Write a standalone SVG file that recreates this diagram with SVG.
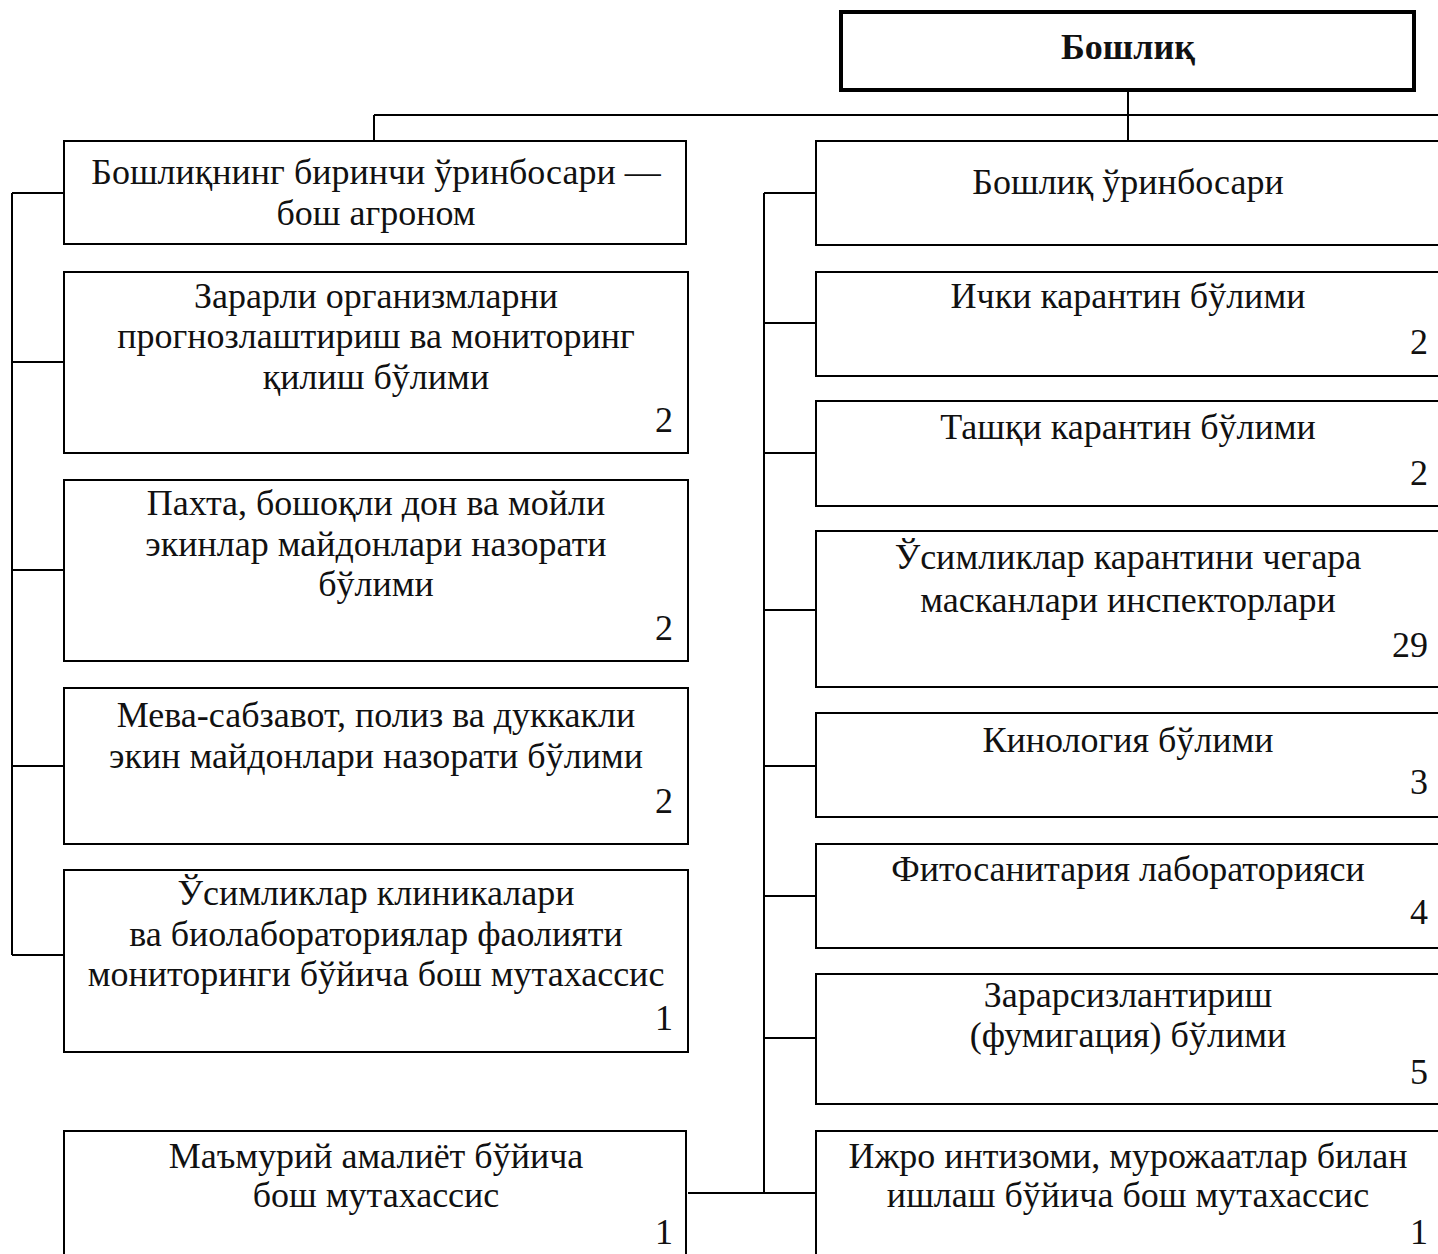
<svg xmlns="http://www.w3.org/2000/svg" width="1438" height="1254" viewBox="0 0 1438 1254">
<style>
.b{fill:#fff;stroke:#000;stroke-width:2}
.boss{fill:#fff;stroke:#000;stroke-width:4}
.c{fill:none;stroke:#000;stroke-width:2}
text{font-family:"Liberation Serif","Times New Roman",serif;font-size:36px;fill:#111}
.m{text-anchor:middle}
.n{text-anchor:end}
.bold{font-weight:bold}
</style>
<rect width="1438" height="1254" fill="#fff"/>
<g id="connectors">
<path class="c" d="M1128 90V141M374 115H1440M374 115V141"/>
<path class="c" d="M12 193V955M12 193H64M12 362H64M12 570H64M12 766H64M12 955H64"/>
<path class="c" d="M764 193V1193M764 193H816M764 323H816M764 453H816M764 610H816M764 766H816M764 896H816M764 1038H816M688 1193H816"/>
</g>
<g id="boss"><rect class="boss" x="841" y="12" width="573" height="78"/><text class="m bold" x="1128" y="59">Бошлиқ</text></g>
<g id="l1"><rect class="b" x="64" y="141" width="622" height="103"/><text class="m" x="376" y="184">Бошлиқнинг биринчи ўринбосари —</text><text class="m" x="376" y="225">бош агроном</text></g>
<g id="l2"><rect class="b" x="64" y="272" width="624" height="181"/><text class="m" x="376" y="308">Зарарли организмларни</text><text class="m" x="376" y="348">прогнозлаштириш ва мониторинг</text><text class="m" x="376" y="389">қилиш бўлими</text><text class="n" x="673" y="432">2</text></g>
<g id="l3"><rect class="b" x="64" y="480" width="624" height="181"/><text class="m" x="376" y="515">Пахта, бошоқли дон ва мойли</text><text class="m" x="376" y="556">экинлар майдонлари назорати</text><text class="m" x="376" y="596">бўлими</text><text class="n" x="673" y="640">2</text></g>
<g id="l4"><rect class="b" x="64" y="688" width="624" height="156"/><text class="m" x="376" y="727">Мева-сабзавот, полиз ва дуккакли</text><text class="m" x="376" y="768">экин майдонлари назорати бўлими</text><text class="n" x="673" y="813">2</text></g>
<g id="l5"><rect class="b" x="64" y="870" width="624" height="182"/><text class="m" x="376" y="905">Ўсимликлар клиникалари</text><text class="m" x="376" y="946">ва биолабораториялар фаолияти</text><text class="m" x="376" y="986">мониторинги бўйича бош мутахассис</text><text class="n" x="673" y="1030">1</text></g>
<g id="l6"><rect class="b" x="64" y="1131" width="622" height="140"/><text class="m" x="376" y="1168">Маъмурий амалиёт бўйича</text><text class="m" x="376" y="1207">бош мутахассис</text><text class="n" x="673" y="1244">1</text></g>
<g id="r1"><rect class="b" x="816" y="141" width="640" height="104"/><text class="m" x="1128" y="194">Бошлиқ ўринбосари</text></g>
<g id="r2"><rect class="b" x="816" y="272" width="640" height="104"/><text class="m" x="1128" y="308">Ички карантин бўлими</text><text class="n" x="1428" y="354">2</text></g>
<g id="r3"><rect class="b" x="816" y="401" width="640" height="105"/><text class="m" x="1128" y="439">Ташқи карантин бўлими</text><text class="n" x="1428" y="485">2</text></g>
<g id="r4"><rect class="b" x="816" y="531" width="640" height="156"/><text class="m" x="1128" y="569">Ўсимликлар карантини чегара</text><text class="m" x="1128" y="612">масканлари инспекторлари</text><text class="n" x="1428" y="657">29</text></g>
<g id="r5"><rect class="b" x="816" y="713" width="640" height="104"/><text class="m" x="1128" y="752">Кинология бўлими</text><text class="n" x="1428" y="794">3</text></g>
<g id="r6"><rect class="b" x="816" y="844" width="640" height="104"/><text class="m" x="1128" y="881">Фитосанитария лабораторияси</text><text class="n" x="1428" y="924">4</text></g>
<g id="r7"><rect class="b" x="816" y="974" width="640" height="130"/><text class="m" x="1128" y="1007">Зарарсизлантириш</text><text class="m" x="1128" y="1047">(фумигация) бўлими</text><text class="n" x="1428" y="1084">5</text></g>
<g id="r8"><rect class="b" x="816" y="1131" width="640" height="140"/><text class="m" x="1128" y="1168">Ижро интизоми, мурожаатлар билан</text><text class="m" x="1128" y="1207">ишлаш бўйича бош мутахассис</text><text class="n" x="1428" y="1244">1</text></g>
</svg>
